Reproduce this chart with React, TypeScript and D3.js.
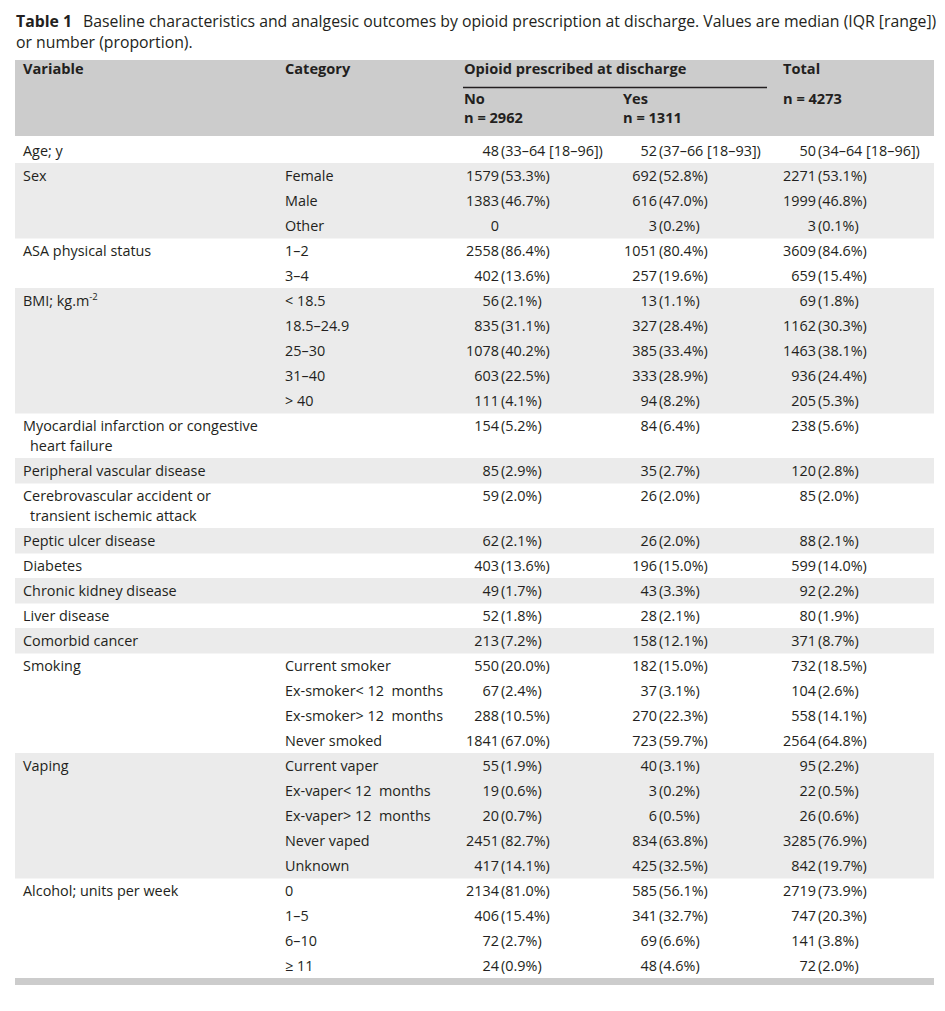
import React from 'react';
import * as d3 from 'd3';

const titleBold = 'Table 1';
const titleLine1 = 'Baseline characteristics and analgesic outcomes by opioid prescription at discharge. Values are median (IQR [range])';
const titleLine2 = 'or number (proportion).';

const headerTop = ['Variable', 'Category', 'Opioid prescribed at discharge', 'Total'];
const headerSub = [['No', 'n = 2962'], ['Yes', 'n = 1311']];
const headerTotalN = 'n = 4273';

const NB = '\u00a0';
const rowVariable = [
  'Age; y', 'Sex', '', '', 'ASA physical status', '', 'BMI; kg.m^-2', '', '', '', '',
  'Myocardial infarction or congestive|heart failure', 'Peripheral vascular disease',
  'Cerebrovascular accident or|transient ischemic attack', 'Peptic ulcer disease', 'Diabetes',
  'Chronic kidney disease', 'Liver disease', 'Comorbid cancer',
  'Smoking', '', '', '', 'Vaping', '', '', '', '', 'Alcohol; units per week', '', '', '',
];
const rowCategory = [
  '', 'Female', 'Male', 'Other', '1–2', '3–4', '< 18.5', '18.5–24.9', '25–30', '31–40', '> 40',
  '', '', '', '', '', '', '', '',
  'Current smoker', `Ex-smoker<${NB}12${NB}${NB}months`, `Ex-smoker>${NB}12${NB}${NB}months`, 'Never smoked',
  'Current vaper', `Ex-vaper<${NB}12${NB}${NB}months`, `Ex-vaper>${NB}12${NB}${NB}months`, 'Never vaped', 'Unknown',
  '0', '1–5', '6–10', '≥ 11',
];
const noValues = [
  '48 (33–64 [18–96])', '1579 (53.3%)', '1383 (46.7%)', '0', '2558 (86.4%)', '402 (13.6%)',
  '56 (2.1%)', '835 (31.1%)', '1078 (40.2%)', '603 (22.5%)', '111 (4.1%)',
  '154 (5.2%)', '85 (2.9%)', '59 (2.0%)', '62 (2.1%)', '403 (13.6%)', '49 (1.7%)', '52 (1.8%)', '213 (7.2%)',
  '550 (20.0%)', '67 (2.4%)', '288 (10.5%)', '1841 (67.0%)',
  '55 (1.9%)', '19 (0.6%)', '20 (0.7%)', '2451 (82.7%)', '417 (14.1%)',
  '2134 (81.0%)', '406 (15.4%)', '72 (2.7%)', '24 (0.9%)',
];
const yesValues = [
  '52 (37–66 [18–93])', '692 (52.8%)', '616 (47.0%)', '3 (0.2%)', '1051 (80.4%)', '257 (19.6%)',
  '13 (1.1%)', '327 (28.4%)', '385 (33.4%)', '333 (28.9%)', '94 (8.2%)',
  '84 (6.4%)', '35 (2.7%)', '26 (2.0%)', '26 (2.0%)', '196 (15.0%)', '43 (3.3%)', '28 (2.1%)', '158 (12.1%)',
  '182 (15.0%)', '37 (3.1%)', '270 (22.3%)', '723 (59.7%)',
  '40 (3.1%)', '3 (0.2%)', '6 (0.5%)', '834 (63.8%)', '425 (32.5%)',
  '585 (56.1%)', '341 (32.7%)', '69 (6.6%)', '48 (4.6%)',
];
const totalValues = [
  '50 (34–64 [18–96])', '2271 (53.1%)', '1999 (46.8%)', '3 (0.1%)', '3609 (84.6%)', '659 (15.4%)',
  '69 (1.8%)', '1162 (30.3%)', '1463 (38.1%)', '936 (24.4%)', '205 (5.3%)',
  '238 (5.6%)', '120 (2.8%)', '85 (2.0%)', '88 (2.1%)', '599 (14.0%)', '92 (2.2%)', '80 (1.9%)', '371 (8.7%)',
  '732 (18.5%)', '104 (2.6%)', '558 (14.1%)', '2564 (64.8%)',
  '95 (2.2%)', '22 (0.5%)', '26 (0.6%)', '3285 (76.9%)', '842 (19.7%)',
  '2719 (73.9%)', '747 (20.3%)', '141 (3.8%)', '72 (2.0%)',
];

const FONT = '"Open Sans", "Noto Sans", sans-serif';
const TEXT = '#231f20';
const HEAD_BG = '#cccccc';
const STRIPE = '#ebebeb';

export default function App() {
  const left = 15, right = 934;
  const headY0 = 60, headY1 = 136;
  const firstRowTop = 138;
  const lineH = 25, twoLineH = 45;

  const heights = rowVariable.map(v => (v.includes('|') ? twoLineH : lineH));
  const cum = Array.from(d3.cumsum(heights));
  const tops = heights.map((h, i) => firstRowTop + (i === 0 ? 0 : cum[i - 1]));
  const tableBottom = firstRowTop + cum[cum.length - 1];

  let g = -1;
  const groups = rowVariable.map(v => { if (v !== '') g += 1; return g; });

  const colX = d3.scaleOrdinal<string, number>()
    .domain(['variable', 'category', 'no', 'yes', 'total'])
    .range([23, 285, 501, 659, 818]);
  const headX = d3.scaleOrdinal<string, number>()
    .domain(['variable', 'category', 'no', 'yes', 'total'])
    .range([23, 285, 464, 623, 783]);

  const fs = 14.4;
  const fsHead = 14.6;

  const renderValue = (val: string, x: number, y: number, key: string) => {
    const idx = val.indexOf(' (');
    const num = idx >= 0 ? val.slice(0, idx) : val;
    const rest = idx >= 0 ? val.slice(idx + 1) : '';
    return (
      <g key={key}>
        <text x={x - 2} y={y} textAnchor="end">{num}</text>
        {rest && <text x={x} y={y}>{rest}</text>}
      </g>
    );
  };

  const renderVariable = (v: string, y: number, key: string) => {
    if (v.includes('^')) {
      const [base, sup] = v.split('^');
      return (
        <text key={key} x={colX('variable')} y={y}>
          {base}
          <tspan dy={-6} fontSize={9.5}>{sup}</tspan>
        </text>
      );
    }
    const lines = v.split('|');
    return (
      <text key={key} x={colX('variable')} y={y}>
        {lines.map((l, i) => (
          <tspan key={i} x={colX('variable') + (i > 0 ? 7 : 0)} dy={i === 0 ? 0 : 19.5}>{l}</tspan>
        ))}
      </text>
    );
  };

  return (
    <svg width={945} height={1011} style={{ position: 'absolute', left: 0, top: 0, background: '#fff' }}
      fontFamily={FONT} fill={TEXT}>
      <rect x={0} y={0} width={945} height={1011} fill="#ffffff" />
      <text x={16} y={27} fontSize={15.8}>
        <tspan fontWeight="bold">{titleBold}</tspan>
        <tspan x={83}>{titleLine1}</tspan>
      </text>
      <text x={16} y={48} fontSize={15.8}>{titleLine2}</text>

      <rect x={left} y={headY0} width={right - left} height={headY1 - headY0} fill={HEAD_BG} />
      <g fontWeight="bold" fontSize={fsHead}>
        <text x={headX('variable')} y={74}>{headerTop[0]}</text>
        <text x={headX('category')} y={74}>{headerTop[1]}</text>
        <text x={headX('no')} y={74}>{headerTop[2]}</text>
        <text x={headX('total')} y={74}>{headerTop[3]}</text>
        <line x1={463} x2={767} y1={87.5} y2={87.5} stroke={TEXT} strokeWidth={1.3} />
        {headerSub.map((s, i) => {
          const x = headX(i === 0 ? 'no' : 'yes');
          return (
            <g key={i}>
              <text x={x} y={104}>{s[0]}</text>
              <text x={x} y={123}>{s[1]}</text>
            </g>
          );
        })}
        <text x={headX('total')} y={104}>{headerTotalN}</text>
      </g>

      {rowVariable.map((_, i) =>
        groups[i] % 2 === 1 ? (
          <rect key={'s' + i} x={left} y={tops[i]} width={right - left} height={heights[i] + 0.5} fill={STRIPE} />
        ) : null
      )}

      <g fontSize={fs}>
        {rowVariable.map((v, i) => {
          const y = tops[i] + 18;
          return (
            <g key={'r' + i}>
              {v && renderVariable(v, y, 'v' + i)}
              {rowCategory[i] && <text x={colX('category')} y={y}>{rowCategory[i]}</text>}
              {renderValue(noValues[i], colX('no'), y, 'n' + i)}
              {renderValue(yesValues[i], colX('yes'), y, 'y' + i)}
              {renderValue(totalValues[i], colX('total'), y, 't' + i)}
            </g>
          );
        })}
      </g>

      <rect x={left} y={tableBottom} width={right - left} height={7} fill={HEAD_BG} />
    </svg>
  );
}
